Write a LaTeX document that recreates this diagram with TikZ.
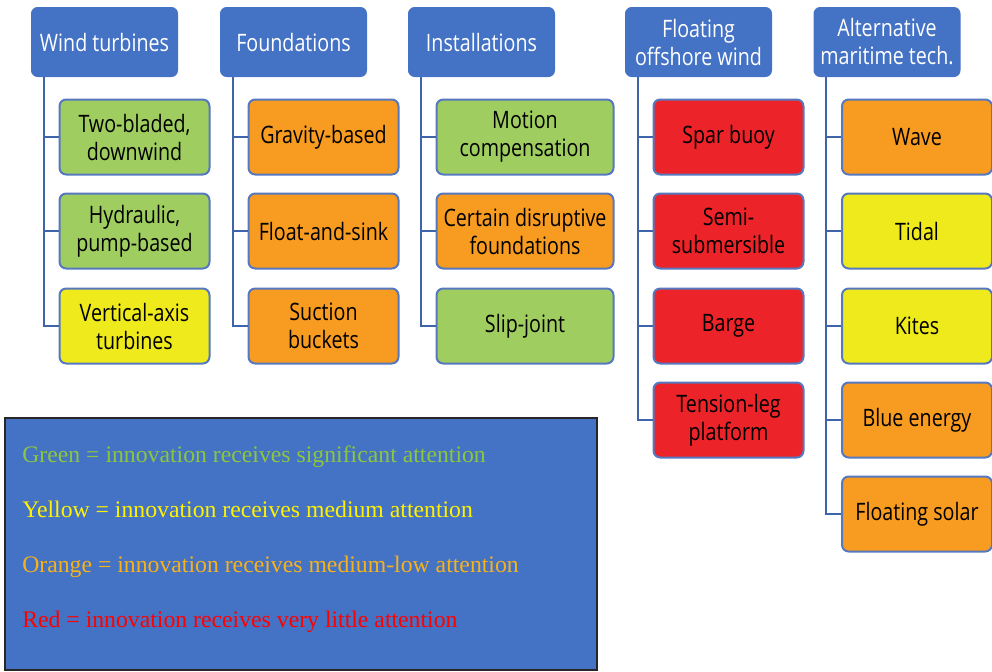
\documentclass[tikz,border=0pt]{standalone}
\usepackage{fontspec}
\setmainfont{Open Sans}[FakeStretch=0.82]
\newfontfamily\legendfont{Liberation Serif}
\usepackage{tikz}
\usetikzlibrary{positioning,calc}
\definecolor{hdBlue}{HTML}{4472C4}
\definecolor{lnBlue}{HTML}{3E64AC}
\definecolor{bdBlue}{HTML}{5678BF}
\definecolor{attGreen}{HTML}{9FCD5F}
\definecolor{attYellow}{HTML}{EEEA1C}
\definecolor{attOrange}{HTML}{F79B21}
\definecolor{attRed}{HTML}{EC2328}
\definecolor{lgGreen}{HTML}{8CC63F}
\definecolor{lgYellow}{HTML}{FFF200}
\definecolor{lgOrange}{HTML}{F7B21A}
\definecolor{lgRed}{HTML}{FF0000}

\begin{document}
\begin{tikzpicture}[
  x=0.75pt, y=-0.75pt,
  font=\fontsize{18}{21}\selectfont,
  hd/.style={fill=hdBlue, text=white, rounded corners=5pt, align=center,
    minimum width=110.25pt, minimum height=52.5pt, inner sep=2pt},
  box/.style={draw=bdBlue, line width=1.5pt, rounded corners=5pt, align=center,
    minimum width=112.5pt, minimum height=56.25pt, inner sep=2pt},
  wide/.style={box, minimum width=132.75pt},
  grn/.style={box, fill=attGreen},
  yel/.style={box, fill=attYellow},
  org/.style={box, fill=attOrange},
  rd/.style={box, fill=attRed},
  tree/.style={draw=lnBlue, line width=1.5pt},
  legtxt/.style={font=\legendfont\fontsize{17.8}{20}\selectfont, anchor=base west, inner sep=0pt},
]
\useasboundingbox (0,0) rectangle (992,671);
% category headers
\node[hd] (wind) at (104.5,42) {Wind turbines};
\node[hd] (fnd) at (293.5,42) {Foundations};
\node[hd] (inst) at (481.5,42) {Installations};
\node[hd] (flt) at (698.5,42) {Floating\\offshore wind};
\node[hd] (alt) at (887,42) {Alternative\\maritime tech.};
% wind turbines
\node[grn] (wt1) at (134.5,137) {Two-bladed,\\downwind};
\node[grn] (wt2) at (134.5,231) {Hydraulic,\\pump-based};
\node[yel] (wt3) at (134.5,326) {Vertical-axis\\turbines};
% foundations
\node[org] (fn1) at (323.5,137) {Gravity-based};
\node[org] (fn2) at (323.5,231) {Float-and-sink};
\node[org] (fn3) at (323.5,326) {Suction\\buckets};
% installations
\node[grn, wide] (in1) at (525,137) {Motion\\compensation};
\node[org, wide] (in2) at (525,231) {Certain disruptive\\foundations};
\node[grn, wide] (in3) at (525,326) {Slip-joint};
% floating
\node[rd] (fl1) at (728.5,137) {Spar buoy};
\node[rd] (fl2) at (728.5,231) {Semi-\\submersible};
\node[rd] (fl3) at (728.5,326) {Barge};
\node[rd] (fl4) at (728.5,420) {Tension-leg\\platform};
% alternative
\node[org] (al1) at (917,137) {Wave};
\node[yel] (al2) at (917,231) {Tidal};
\node[yel] (al3) at (917,326) {Kites};
\node[org] (al4) at (917,420) {Blue energy};
\node[org] (al5) at (917,514) {Floating solar};
% tree lines
\draw[tree] ([xshift=9.75pt]wind.south west) |- (wt1.west);
\draw[tree] ([xshift=9.75pt]wind.south west) |- (wt2.west);
\draw[tree] ([xshift=9.75pt]wind.south west) |- (wt3.west);
\draw[tree] ([xshift=9.75pt]fnd.south west) |- (fn1.west);
\draw[tree] ([xshift=9.75pt]fnd.south west) |- (fn2.west);
\draw[tree] ([xshift=9.75pt]fnd.south west) |- (fn3.west);
\draw[tree] ([xshift=9.75pt]inst.south west) |- (in1.west);
\draw[tree] ([xshift=9.75pt]inst.south west) |- (in2.west);
\draw[tree] ([xshift=9.75pt]inst.south west) |- (in3.west);
\draw[tree] ([xshift=9.75pt]flt.south west) |- (fl1.west);
\draw[tree] ([xshift=9.75pt]flt.south west) |- (fl2.west);
\draw[tree] ([xshift=9.75pt]flt.south west) |- (fl3.west);
\draw[tree] ([xshift=9.75pt]flt.south west) |- (fl4.west);
\draw[tree] ([xshift=9.75pt]alt.south west) |- (al1.west);
\draw[tree] ([xshift=9.75pt]alt.south west) |- (al2.west);
\draw[tree] ([xshift=9.75pt]alt.south west) |- (al3.west);
\draw[tree] ([xshift=9.75pt]alt.south west) |- (al4.west);
\draw[tree] ([xshift=9.75pt]alt.south west) |- (al5.west);
% legend
\node[draw=black!85, line width=1.5pt, fill=hdBlue, minimum width=444pt,
  minimum height=189pt, inner sep=0pt] (legend) at (301,544) {};
\node[legtxt, text=lgGreen] (lgG) at (22,462) {Green = innovation receives significant attention};
\node[legtxt, text=lgYellow] (lgY) at (22,517) {Yellow = innovation receives medium attention};
\node[legtxt, text=lgOrange] (lgO) at (22,572) {Orange = innovation receives medium-low attention};
\node[legtxt, text=lgRed] (lgR) at (22,627) {Red = innovation receives very little attention};
\end{tikzpicture}
\end{document}
